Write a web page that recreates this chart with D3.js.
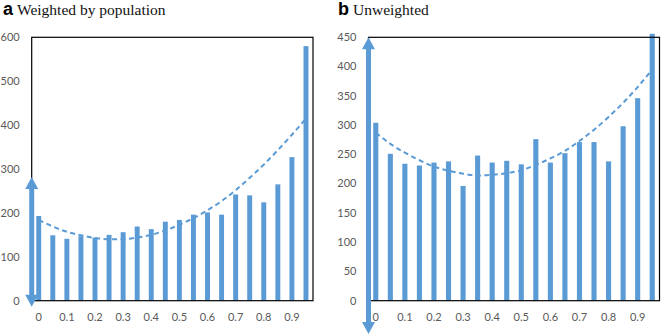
<!DOCTYPE html>
<html>
<head>
<meta charset="utf-8">
<script src="https://cdnjs.cloudflare.com/ajax/libs/d3/7.8.5/d3.min.js"></script>
<style>
  html, body { margin: 0; padding: 0; background: #fff; }
  svg { display: block; }
  .tick-label { font-family: Lato, "Open Sans", sans-serif; font-size: 11px; fill: #595959; }
</style>
</head>
<body>
<svg id="chart" width="661" height="335"></svg>
<script>
// Bin categories (share of ... from 0 to 0.95)
const categories = ['0', '0.05', '0.1', '0.15', '0.2', '0.25', '0.3', '0.35', '0.4', '0.45',
                    '0.5', '0.55', '0.6', '0.65', '0.7', '0.75', '0.8', '0.85', '0.9', '0.95'];
const xTickLabels = ['0', '0.1', '0.2', '0.3', '0.4', '0.5', '0.6', '0.7', '0.8', '0.9'];

// Panel a: weighted by population
const weightedCounts = [193, 149, 141, 147, 144, 150, 156, 169, 163, 180,
                        184, 196, 201, 196, 242, 240, 224, 265, 327, 580];
const weightedTrend = [184, 169, 157, 149, 143, 140, 140, 144, 150, 160,
                       173, 188, 206, 227, 252, 280, 310, 343, 378, 415];
const weightedTicks = [0, 100, 200, 300, 400, 500, 600];

// Panel b: unweighted
const unweightedCounts = [304, 251, 234, 231, 236, 238, 196, 248, 236, 239,
                          233, 276, 236, 252, 271, 271, 238, 298, 346, 456];
const unweightedTrend = [287, 268, 253, 240, 229, 222, 217, 214, 215, 218,
                         223, 232, 243, 256, 273, 292, 314, 338, 365, 395];
const unweightedTicks = [0, 50, 100, 150, 200, 250, 300, 350, 400, 450];

const BLUE = '#5B9BD5';
const svg = d3.select('#chart');

/**
 * Draw one panel: boxed plot area, bars, dashed trendline and the double arrow
 */
function drawPanel(opts) {
    const g = svg.append('g');

    const x = d3.scaleBand()
        .domain(categories)
        .range([opts.left, opts.right])
        .paddingInner(0.65)
        .paddingOuter(0.325);

    const y = d3.scaleLinear()
        .domain([0, opts.yMax])
        .range([opts.bottom, opts.top]);

    // Title: bold panel letter + serif caption
    const title = g.append('text')
        .attr('x', opts.titleX)
        .attr('y', 15);
    title.append('tspan')
        .attr('font-family', '"Liberation Sans", Arial, sans-serif')
        .attr('font-weight', '700')
        .attr('font-size', '18px')
        .attr('fill', '#000')
        .text(opts.letter);
    title.append('tspan')
        .attr('dx', 4)
        .attr('font-family', '"Liberation Serif", "Times New Roman", serif')
        .attr('font-size', '15.5px')
        .attr('fill', '#111')
        .text(opts.caption);

    // Y tick labels (no tick marks, Excel style)
    g.selectAll('.ylab')
        .data(opts.ticks)
        .join('text')
        .attr('class', 'tick-label')
        .attr('x', opts.left - 12)
        .attr('y', d => y(d))
        .attr('dy', '0.35em')
        .attr('text-anchor', 'end')
        .text(d => d);

    // X tick labels on every second category
    g.selectAll('.xlab')
        .data(xTickLabels)
        .join('text')
        .attr('class', 'tick-label')
        .attr('x', d => x(d) + x.bandwidth() / 2)
        .attr('y', opts.bottom + 16)
        .attr('dy', '0.35em')
        .attr('text-anchor', 'middle')
        .text(d => d);

    // Trendline sits behind the bars
    const line = d3.line()
        .x((d, i) => x(categories[i]) + x.bandwidth() / 2)
        .y(d => y(d))
        .curve(d3.curveMonotoneX);

    g.append('path')
        .datum(opts.trend)
        .attr('fill', 'none')
        .attr('stroke', BLUE)
        .attr('stroke-width', 2)
        .attr('stroke-dasharray', '5,3.5')
        .attr('d', line);

    // Bars
    g.selectAll('.bar')
        .data(opts.values)
        .join('rect')
        .attr('class', 'bar')
        .attr('x', (d, i) => x(categories[i]))
        .attr('y', d => y(d))
        .attr('width', x.bandwidth())
        .attr('height', d => y(0) - y(d))
        .attr('fill', BLUE);

    // Plot area frame
    g.append('rect')
        .attr('x', opts.left)
        .attr('y', opts.top)
        .attr('width', opts.right - opts.left)
        .attr('height', opts.bottom - opts.top)
        .attr('fill', 'none')
        .attr('stroke', '#000')
        .attr('stroke-width', 1.2);

    // Double-headed arrow along the left edge
    const ax = opts.left;
    const yTop = y(opts.arrow[1]);
    const yBot = y(opts.arrow[0]);
    const headLen = 12;
    const headHalf = 6.5;

    g.append('line')
        .attr('x1', ax).attr('x2', ax)
        .attr('y1', yTop + headLen - 1)
        .attr('y2', yBot - headLen + 1)
        .attr('stroke', BLUE)
        .attr('stroke-width', 5);

    g.append('path')
        .attr('fill', BLUE)
        .attr('d', `M${ax},${yTop}L${ax + headHalf},${yTop + headLen}L${ax - headHalf},${yTop + headLen}Z`);

    g.append('path')
        .attr('fill', BLUE)
        .attr('d', `M${ax},${yBot}L${ax + headHalf},${yBot - headLen}L${ax - headHalf},${yBot - headLen}Z`);
}

drawPanel({
    letter: 'a', caption: 'Weighted by population', titleX: 3,
    left: 31.7, right: 313, top: 37.3, bottom: 300.7,
    yMax: 600, ticks: weightedTicks,
    values: weightedCounts, trend: weightedTrend,
    arrow: [-14, 282]
});

drawPanel({
    letter: 'b', caption: 'Unweighted', titleX: 338,
    left: 368.5, right: 659.5, top: 37.3, bottom: 300.7,
    yMax: 450, ticks: unweightedTicks,
    values: unweightedCounts, trend: unweightedTrend,
    arrow: [-57, 450]
});
</script>
</body>
</html>
